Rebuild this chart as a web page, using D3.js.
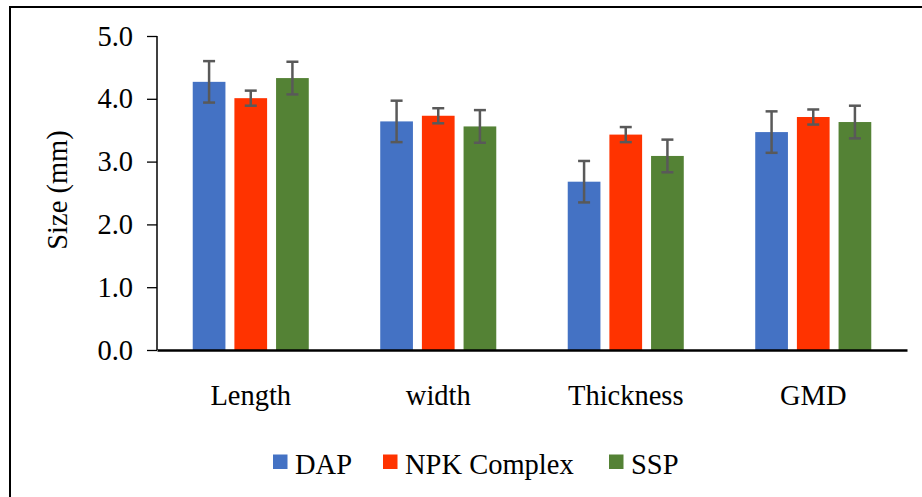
<!DOCTYPE html>
<html>
<head>
<meta charset="utf-8">
<script src="https://cdn.jsdelivr.net/npm/d3@7"></script>
<style>
  html, body { margin: 0; padding: 0; background: #fff; }
  svg { display: block; }
  text { font-family: "Liberation Serif", "Times New Roman", serif; fill: #000; }
</style>
</head>
<body>
<svg id="chart" width="922" height="497"></svg>
<script>
const categories = ["Length", "width", "Thickness", "GMD"];
const seriesNames = ["DAP", "NPK Complex", "SSP"];
const seriesColors = ["#4472C4", "#FF3300", "#548235"];
const dapValues = [4.27, 3.64, 2.68, 3.47];
const dapErrors = [0.33, 0.33, 0.33, 0.33];
const npkValues = [4.01, 3.73, 3.43, 3.71];
const npkErrors = [0.12, 0.12, 0.12, 0.12];
const sspValues = [4.33, 3.56, 3.09, 3.63];
const sspErrors = [0.26, 0.26, 0.26, 0.26];
const yTicks = [0, 1, 2, 3, 4, 5];
const yTitle = "Size (mm)";

const seriesValues = [dapValues, npkValues, sspValues];
const seriesErrors = [dapErrors, npkErrors, sspErrors];
const FS = 28.5;

const svg = d3.select("#chart");

// outer frame
svg.append("rect").attr("x", 10).attr("y", 7).attr("width", 1000).attr("height", 600)
  .attr("fill", "none").attr("stroke", "#000").attr("stroke-width", 2);

const x = d3.scaleBand().domain(categories).range([157, 907]).padding(0);
const xi = d3.scaleBand().domain(seriesNames).range([31.25, 156.25]).paddingInner(0.215).paddingOuter(0.1075);
const y = d3.scaleLinear().domain([0, 5]).range([350, 36]);

const data = [];
categories.forEach((c, ci) => {
  seriesNames.forEach((s, si) => {
    data.push({ c, s, si, v: seriesValues[si][ci], e: seriesErrors[si][ci] });
  });
});

// bars
svg.append("g").selectAll("rect").data(data).join("rect")
  .attr("x", d => x(d.c) + xi(d.s))
  .attr("y", d => y(d.v))
  .attr("width", xi.bandwidth())
  .attr("height", d => y(0) - y(d.v))
  .attr("fill", d => seriesColors[d.si]);

// error bars
const eg = svg.append("g").attr("stroke", "#595959").attr("stroke-width", 2.5);
data.forEach(d => {
  const cx = x(d.c) + xi(d.s) + xi.bandwidth() / 2;
  const y1 = y(d.v + d.e), y2 = y(d.v - d.e);
  eg.append("line").attr("x1", cx).attr("x2", cx).attr("y1", y1).attr("y2", y2);
  eg.append("line").attr("x1", cx - 6).attr("x2", cx + 6).attr("y1", y1).attr("y2", y1);
  eg.append("line").attr("x1", cx - 6).attr("x2", cx + 6).attr("y1", y2).attr("y2", y2);
});

// y axis
const yAxis = d3.axisLeft(y).tickValues(yTicks).tickFormat(d3.format(".1f")).tickSize(10).tickPadding(14);
const yg = svg.append("g").attr("transform", "translate(157,0)").call(yAxis);
yg.select(".domain").attr("stroke", "#000").attr("stroke-width", 1.5).attr("d", "M0,36V350");
yg.selectAll(".tick line").attr("stroke", "#000").attr("stroke-width", 1.3);
yg.selectAll(".tick text").attr("font-size", FS).attr("fill", "#000");

// x axis
const xAxis = d3.axisBottom(x).tickSize(0).tickPadding(0);
const xg = svg.append("g").attr("transform", "translate(0,350)").call(xAxis);
xg.select(".domain").attr("stroke", "#000").attr("stroke-width", 2.5);
xg.selectAll(".tick text").attr("font-size", FS).attr("fill", "#000").attr("dy", null).attr("y", 55);

// y title
svg.append("text").attr("transform", "translate(67,190) rotate(-90)")
  .attr("text-anchor", "middle").attr("font-size", FS).text(yTitle);

// legend
const legendX = [273, 383, 609];
const lg = svg.append("g");
seriesNames.forEach((s, i) => {
  lg.append("rect").attr("x", legendX[i]).attr("y", 454.5).attr("width", 14.5).attr("height", 14.5).attr("fill", seriesColors[i]);
  lg.append("text").attr("x", legendX[i] + 22).attr("y", 474).attr("font-size", FS).text(s);
});
</script>
</body>
</html>
